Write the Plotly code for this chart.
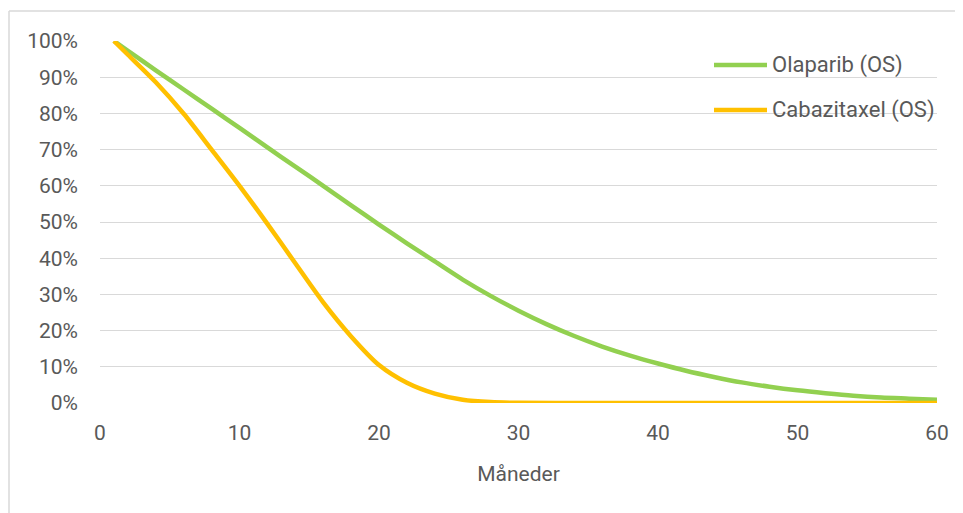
import plotly.graph_objects as go

months_olaparib = [1, 2, 4, 6, 8, 10, 12, 14, 16, 18, 20, 22, 24, 26, 28, 30, 32, 34, 36, 38, 40,
                   42, 44, 46, 48, 50, 52, 54, 56, 58, 60]
olaparib_os = [1.000, 0.973, 0.919, 0.866, 0.813, 0.760, 0.706, 0.653, 0.600, 0.546, 0.493, 0.441, 0.391,
               0.341, 0.296, 0.255, 0.218, 0.185, 0.156, 0.131, 0.109, 0.089, 0.072, 0.057, 0.045,
               0.035, 0.027, 0.020, 0.015, 0.012, 0.009]

months_cabazitaxel = [1, 2, 4, 6, 8, 10, 12, 14, 16, 18, 20, 22, 24, 26, 28, 30, 35, 40, 45, 50, 55, 60]
cabazitaxel_os = [1.000, 0.962, 0.886, 0.799, 0.700, 0.600, 0.495, 0.386, 0.278, 0.184, 0.105, 0.056,
                  0.026, 0.009, 0.0025, 0.0005, 0.0, 0.0, 0.0, 0.0, 0.0, 0.0]

series_names = ["Olaparib (OS)", "Cabazitaxel (OS)"]
series_colors = ["#92D050", "#FFC000"]

x_ticks = [0, 10, 20, 30, 40, 50, 60]
y_ticks = [0, 0.1, 0.2, 0.3, 0.4, 0.5, 0.6, 0.7, 0.8, 0.9, 1.0]
y_tick_labels = ["0%", "10%", "20%", "30%", "40%", "50%", "60%", "70%", "80%", "90%", "100%"]
x_title = "Måneder"

OFF = 8  # page body margin
W, H = 963 - OFF, 513 - OFF
L, R, T, B = 100 - OFF, 937 - OFF, 41 - OFF, 403 - OFF  # plot area, figure pixels

def px_x(px):  # page pixel -> paper
    return (px - OFF - L) / (R - L)

def px_y(py):
    return (B - (py - OFF)) / (B - T)

TEXT = "#595959"
GRID = "#D9D9D9"
FONT = "Roboto"

fig = go.Figure()
fig.add_trace(go.Scatter(x=months_olaparib, y=olaparib_os, mode="lines",
                         line=dict(color=series_colors[0], width=4.5, shape="spline", smoothing=0.8),
                         name=series_names[0], showlegend=False))
fig.add_trace(go.Scatter(x=months_cabazitaxel, y=cabazitaxel_os, mode="lines",
                         line=dict(color=series_colors[1], width=4.5, shape="spline", smoothing=0.8),
                         name=series_names[1], showlegend=False))

shapes = []
annotations = []
# outer chart border (left and top visible)
shapes.append(dict(type="line", xref="paper", yref="paper", x0=px_x(9), x1=px_x(9), y0=px_y(11), y1=px_y(530),
                   line=dict(color=GRID, width=1.5)))
shapes.append(dict(type="line", xref="paper", yref="paper", x0=px_x(9), x1=px_x(980), y0=px_y(11), y1=px_y(11),
                   line=dict(color=GRID, width=1.5)))

# custom legend
legend_rows = [65, 110]
for name, color, ry in zip(series_names, series_colors, legend_rows):
    shapes.append(dict(type="line", xref="paper", yref="paper", x0=px_x(714), x1=px_x(767), y0=px_y(ry), y1=px_y(ry),
                       line=dict(color=color, width=4.5)))
    annotations.append(dict(xref="paper", yref="paper", x=px_x(770), y=px_y(ry), text=name, showarrow=False,
                            xanchor="left", yanchor="middle", font=dict(family=FONT, size=22, color=TEXT)))

fig.update_layout(
    width=W, height=H,
    margin=dict(l=L, r=W - R, t=T, b=H - B, pad=0),
    paper_bgcolor="white", plot_bgcolor="white",
    font=dict(family=FONT, size=21, color=TEXT),
    shapes=shapes, annotations=annotations,
    showlegend=False,
)
fig.update_xaxes(range=[0, 60], tickvals=x_ticks, showgrid=False, zeroline=False, showline=False,
                 ticks="", ticklabelstandoff=15,
                 title=dict(text=x_title, standoff=22, font=dict(family=FONT, size=21, color=TEXT)),
                 tickfont=dict(family=FONT, size=21, color=TEXT))
fig.update_yaxes(range=[0, 1.0], tickvals=y_ticks, ticktext=y_tick_labels, showgrid=True, gridcolor=GRID,
                 gridwidth=1.3, zeroline=False, showline=False, ticks="", ticklabelstandoff=21,
                 tickfont=dict(family=FONT, size=21, color=TEXT))

fig.write_html("out.html")
